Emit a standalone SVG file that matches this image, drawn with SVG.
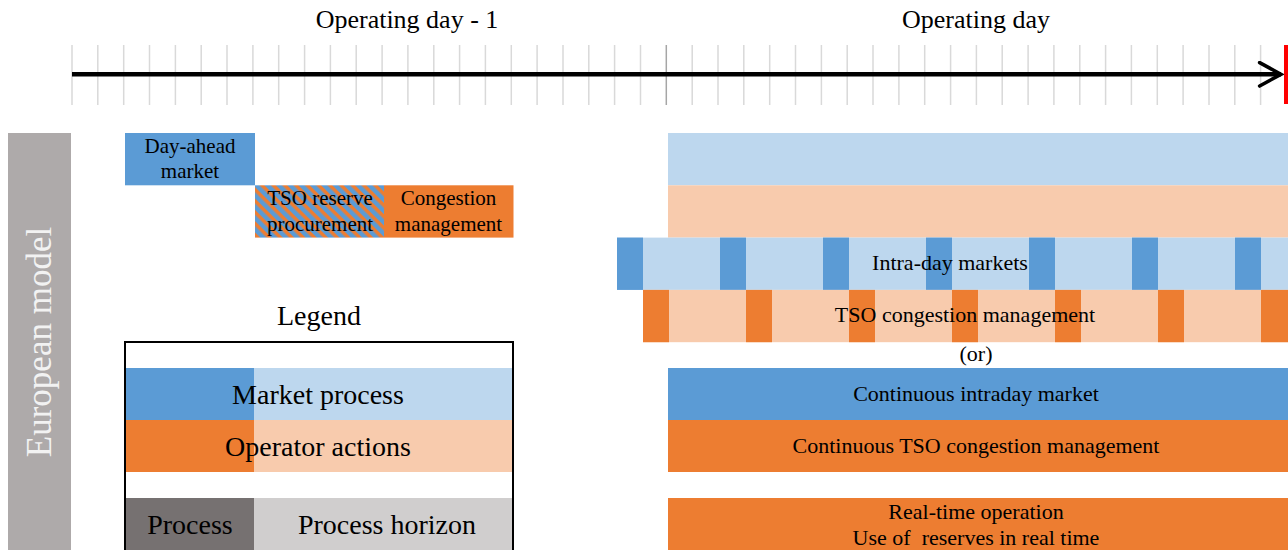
<svg xmlns="http://www.w3.org/2000/svg" width="1288" height="550" viewBox="0 0 1288 550">
<style>
text{font-family:"Liberation Serif","Times New Roman",serif;fill:#000;text-anchor:middle}
.s{font-size:21px}
.m{font-size:22px}
.l{font-size:28px}
.top{font-size:26px}
.db{fill:#5b9bd5}
.lb{fill:#bdd7ee}
.do{fill:#ed7d31}
.lo{fill:#f8cbad}
.tick{stroke:#d9d9d9;stroke-width:1.5;fill:none}
</style>
<defs>
<pattern id="hatch" width="8" height="8" patternUnits="userSpaceOnUse" patternTransform="rotate(45)">
<rect width="8" height="8" fill="#5b9bd5"/>
<rect width="8" height="3.5" fill="#ed7d31"/>
</pattern>
<marker id="chev" viewBox="0 0 12 12" refX="10.5" refY="6" markerWidth="6" markerHeight="6" markerUnits="strokeWidth" orient="auto">
<path d="M1,0.8 L10.5,6 L1,11.2" fill="none" stroke="#000" stroke-width="1.6" stroke-linecap="round" stroke-linejoin="miter"/>
</marker>
</defs>
<rect width="1288" height="550" fill="#fff"/>

<g id="timeline-labels">
<text class="top" x="407" y="28">Operating day - 1</text>
<text class="top" x="976" y="28">Operating day</text>
</g>

<g id="ticks">
<path class="tick" d="M72,45V105M97.8,45V105M123.7,45V105M149.5,45V105M175.4,45V105M201.2,45V105M227,45V105M252.9,45V105M278.7,45V105M304.6,45V105M330.4,45V105M356.2,45V105M382.1,45V105M407.9,45V105M433.8,45V105M459.6,45V105M485.4,45V105M511.3,45V105M537.1,45V105M563,45V105M588.8,45V105M614.6,45V105M640.5,45V105M692.2,45V105M718,45V105M743.8,45V105M769.7,45V105M795.5,45V105M821.4,45V105M847.2,45V105M873,45V105M898.9,45V105M924.7,45V105M950.6,45V105M976.4,45V105M1002.2,45V105M1028.1,45V105M1053.9,45V105M1079.8,45V105M1105.6,45V105M1131.4,45V105M1157.3,45V105M1183.1,45V105M1209,45V105M1234.8,45V105M1260.6,45V105"/>
<path d="M666.3,45V105" stroke="#a6a6a6" stroke-width="1.5"/>
</g>

<g id="connectors">
<path d="M72,74.3H1281" stroke="#000" stroke-width="4.5" fill="none" marker-end="url(#chev)"/>
</g>
<rect id="now-marker" x="1284" y="45" width="4" height="59" fill="#ff0000"/>

<g id="european-model">
<rect x="8" y="133" width="63" height="417" fill="#aeaaaa"/>
<text transform="translate(51,342) rotate(-90)" style="font-size:35px;fill:#f2f2f2">European model</text>
</g>

<g id="day-ahead-market">
<rect class="db" x="125" y="133" width="130" height="52.3"/>
<text class="s" x="190" y="153">Day-ahead</text>
<text class="s" x="190" y="178">market</text>
</g>

<g id="tso-reserve-procurement">
<rect x="255" y="185.3" width="129" height="52.3" fill="url(#hatch)"/>
<text class="s" x="320" y="205">TSO reserve</text>
<text class="s" x="320" y="231">procurement</text>
</g>

<g id="congestion-management">
<rect class="do" x="384" y="185.3" width="129.5" height="52.3"/>
<text class="s" x="448.5" y="205">Congestion</text>
<text class="s" x="448.5" y="231">management</text>
</g>

<g id="day-ahead-horizon">
<rect class="lb" x="668" y="133" width="620" height="52.3"/>
</g>
<g id="congestion-horizon">
<rect class="lo" x="668" y="185.3" width="620" height="52.3"/>
</g>

<g id="intra-day-markets">
<rect class="lb" x="617" y="237.6" width="671" height="52.3"/>
<rect class="db" x="617" y="237.6" width="26" height="52.3"/>
<rect class="db" x="720" y="237.6" width="26" height="52.3"/>
<rect class="db" x="823" y="237.6" width="26" height="52.3"/>
<rect class="db" x="926" y="237.6" width="26" height="52.3"/>
<rect class="db" x="1029" y="237.6" width="26" height="52.3"/>
<rect class="db" x="1132" y="237.6" width="26" height="52.3"/>
<rect class="db" x="1235" y="237.6" width="26" height="52.3"/>
<text class="m" x="950" y="270">Intra-day markets</text>
</g>

<g id="tso-congestion-management">
<rect class="lo" x="643" y="289.9" width="645" height="52.3"/>
<rect class="do" x="643" y="289.9" width="26" height="52.3"/>
<rect class="do" x="746" y="289.9" width="26" height="52.3"/>
<rect class="do" x="849" y="289.9" width="26" height="52.3"/>
<rect class="do" x="952" y="289.9" width="26" height="52.3"/>
<rect class="do" x="1055" y="289.9" width="26" height="52.3"/>
<rect class="do" x="1158" y="289.9" width="26" height="52.3"/>
<rect class="do" x="1261" y="289.9" width="27" height="52.3"/>
<text class="m" x="965" y="322">TSO congestion management</text>
</g>

<text class="m" x="976" y="361">(or)</text>

<g id="continuous-intraday-market">
<rect class="db" x="668" y="368" width="620" height="52"/>
<text class="m" x="976" y="401">Continuous intraday market</text>
</g>

<g id="continuous-tso-congestion-management">
<rect class="do" x="668" y="420" width="620" height="52"/>
<text class="m" x="976" y="453">Continuous TSO congestion management</text>
</g>

<g id="real-time-operation">
<rect class="do" x="668" y="498" width="620" height="52"/>
<text class="m" x="976" y="519">Real-time operation</text>
<text class="m" x="976" y="545" xml:space="preserve">Use of  reserves in real time</text>
</g>

<g id="legend">
<text class="l" x="319" y="325">Legend</text>
<rect class="db" x="125" y="368" width="129" height="52"/>
<rect class="lb" x="254" y="368" width="259" height="52"/>
<rect class="do" x="125" y="420" width="129" height="52"/>
<rect class="lo" x="254" y="420" width="259" height="52"/>
<rect x="125" y="498" width="129" height="52" fill="#767171"/>
<rect x="254" y="498" width="259" height="52" fill="#d0cece"/>
<rect x="125" y="342" width="388" height="210" fill="none" stroke="#000" stroke-width="2"/>
<text class="l" x="318" y="404">Market process</text>
<text class="l" x="318" y="456">Operator actions</text>
<text class="l" x="190" y="534">Process</text>
<text class="l" x="387" y="534">Process horizon</text>
</g>
</svg>
